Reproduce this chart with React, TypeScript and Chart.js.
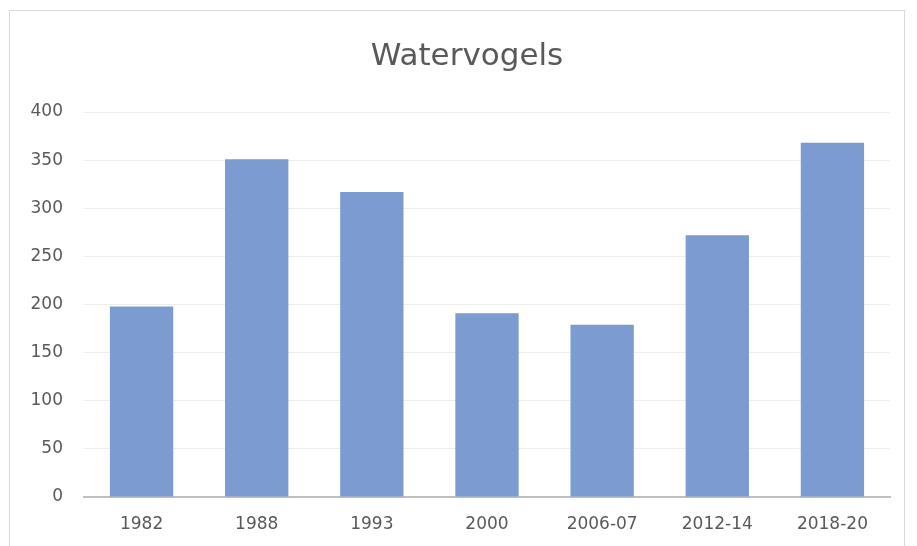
import React, { useEffect, useRef } from "react";
import { Chart, registerables } from "chart.js";

Chart.register(...registerables);

const chartTitle = "Watervogels";
const categories = ["1982", "1988", "1993", "2000", "2006-07", "2012-14", "2018-20"];
const counts = [198, 351, 317, 191, 179, 272, 368];
const yMin = 0;
const yMax = 400;
const yStep = 50;

const FONT = "'DejaVu Sans', sans-serif";
const TEXT = "#595959";

const titlePlugin = {
  id: "chartTitleText",
  afterDraw(chart: any) {
    const ctx = chart.ctx;
    ctx.save();
    ctx.font = `normal 31px ${FONT}`;
    ctx.fillStyle = TEXT;
    ctx.textAlign = "center";
    ctx.textBaseline = "alphabetic";
    ctx.fillText(chartTitle, 467, 65);
    ctx.restore();
  },
};

export default function App() {
  const ref = useRef<HTMLCanvasElement | null>(null);

  useEffect(() => {
    if (!ref.current) return;
    const chart = new Chart(ref.current, {
      type: "bar",
      data: {
        labels: categories,
        datasets: [
          {
            label: chartTitle,
            data: counts,
            backgroundColor: "#7b9bd1",
            borderWidth: 0,
            categoryPercentage: 1,
            barPercentage: 0.55,
          },
        ],
      },
      plugins: [titlePlugin],
      options: {
        responsive: false,
        animation: false,
        layout: { padding: { left: 0, right: 27, top: 112, bottom: 0 } },
        plugins: {
          legend: { display: false },
          tooltip: { enabled: false },
          title: { display: false },
        },
        scales: {
          x: {
            grid: { display: false, drawTicks: false },
            border: { display: true, color: "#bfbfbf", width: 2 },
            ticks: {
              color: TEXT,
              font: { family: FONT, size: 17 },
              padding: 17,
              maxRotation: 0,
              autoSkip: false,
            },
            afterFit: (s: any) => {
              s.height = 49;
            },
          },
          y: {
            min: yMin,
            max: yMax,
            grid: { color: "#eeeeee", lineWidth: 1, drawTicks: false },
            border: { display: false },
            ticks: {
              stepSize: yStep,
              color: TEXT,
              font: { family: FONT, size: 17 },
              padding: 21,
            },
            afterFit: (s: any) => {
              s.width = 84;
            },
          },
        },
      },
    });
    return () => chart.destroy();
  }, []);

  return (
    <div
      style={{
        position: "fixed",
        left: 0,
        top: 0,
        width: 917,
        height: 546,
        overflow: "hidden",
        background: "#ffffff",
      }}
    >
      <div
        style={{
          position: "absolute",
          left: 9,
          top: 10,
          width: 896,
          height: 600,
          boxSizing: "border-box",
          border: "1px solid #d9d9d9",
        }}
      />
      <canvas
        ref={ref}
        width={917}
        height={546}
        style={{ position: "absolute", left: 0, top: 0, width: 917, height: 546 }}
      />
    </div>
  );
}
